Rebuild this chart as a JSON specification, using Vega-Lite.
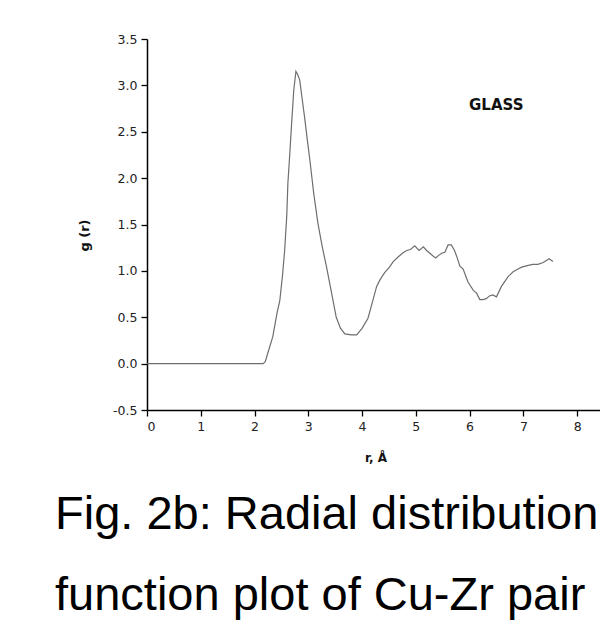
{
  "$schema": "https://vega.github.io/schema/vega-lite/v6.json",
  "width": 457,
  "height": 371,
  "autosize": {"type": "none"},
  "padding": {"left": 147, "top": 39, "right": 0, "bottom": 221},
  "background": "white",
  "config": {
    "view": {"stroke": null},
    "axis": {
      "domainColor": "#000000",
      "domainWidth": 1.5,
      "tickColor": "#000000",
      "tickWidth": 1.3,
      "labelFont": "DejaVu Sans",
      "labelFontSize": 12.5,
      "labelColor": "#222222",
      "labelOverlap": false,
      "grid": false,
      "titleFont": "DejaVu Sans",
      "titleFontWeight": "bold",
      "titleColor": "#111111"
    }
  },
  "title": {
    "text": ["Fig. 2b: Radial distribution", "function plot of Cu-Zr pair"],
    "orient": "bottom",
    "anchor": "start",
    "frame": "group",
    "font": "Liberation Sans",
    "fontSize": 47,
    "fontWeight": "normal",
    "color": "#000000",
    "lineHeight": 81,
    "dx": -92,
    "offset": 29
  },
  "layer": [
    {
      "data": {
        "values": [
          {"r": 0, "g": 0}, {"r": 2.16, "g": 0}, {"r": 2.2, "g": 0.02}, {"r": 2.25, "g": 0.12},
          {"r": 2.34, "g": 0.29}, {"r": 2.42, "g": 0.55}, {"r": 2.47, "g": 0.68}, {"r": 2.52, "g": 0.95},
          {"r": 2.56, "g": 1.22}, {"r": 2.6, "g": 1.6}, {"r": 2.62, "g": 1.94}, {"r": 2.66, "g": 2.3},
          {"r": 2.69, "g": 2.59}, {"r": 2.73, "g": 2.95}, {"r": 2.77, "g": 3.15}, {"r": 2.8, "g": 3.12},
          {"r": 2.84, "g": 3.06}, {"r": 2.88, "g": 2.88}, {"r": 2.93, "g": 2.66}, {"r": 2.98, "g": 2.42},
          {"r": 3.03, "g": 2.19}, {"r": 3.1, "g": 1.84}, {"r": 3.18, "g": 1.51}, {"r": 3.26, "g": 1.26},
          {"r": 3.34, "g": 1.04}, {"r": 3.43, "g": 0.77}, {"r": 3.52, "g": 0.5}, {"r": 3.6, "g": 0.38},
          {"r": 3.68, "g": 0.32}, {"r": 3.8, "g": 0.31}, {"r": 3.9, "g": 0.31}, {"r": 4.0, "g": 0.38},
          {"r": 4.11, "g": 0.49}, {"r": 4.2, "g": 0.68}, {"r": 4.27, "g": 0.83}, {"r": 4.33, "g": 0.9},
          {"r": 4.42, "g": 0.98}, {"r": 4.51, "g": 1.04}, {"r": 4.58, "g": 1.1}, {"r": 4.67, "g": 1.15},
          {"r": 4.75, "g": 1.19}, {"r": 4.83, "g": 1.22}, {"r": 4.9, "g": 1.23}, {"r": 4.98, "g": 1.27},
          {"r": 5.06, "g": 1.22}, {"r": 5.14, "g": 1.26}, {"r": 5.2, "g": 1.22}, {"r": 5.26, "g": 1.19},
          {"r": 5.32, "g": 1.16}, {"r": 5.37, "g": 1.14}, {"r": 5.43, "g": 1.17}, {"r": 5.48, "g": 1.19},
          {"r": 5.54, "g": 1.2}, {"r": 5.6, "g": 1.28}, {"r": 5.66, "g": 1.28}, {"r": 5.72, "g": 1.22},
          {"r": 5.77, "g": 1.14}, {"r": 5.82, "g": 1.05}, {"r": 5.88, "g": 1.02}, {"r": 5.97, "g": 0.88},
          {"r": 6.07, "g": 0.79}, {"r": 6.13, "g": 0.76}, {"r": 6.19, "g": 0.69}, {"r": 6.25, "g": 0.69},
          {"r": 6.31, "g": 0.7}, {"r": 6.37, "g": 0.73}, {"r": 6.43, "g": 0.74}, {"r": 6.5, "g": 0.72},
          {"r": 6.59, "g": 0.83}, {"r": 6.72, "g": 0.94}, {"r": 6.81, "g": 0.99}, {"r": 6.9, "g": 1.02},
          {"r": 6.97, "g": 1.04}, {"r": 7.09, "g": 1.06}, {"r": 7.18, "g": 1.07}, {"r": 7.27, "g": 1.07},
          {"r": 7.37, "g": 1.09}, {"r": 7.48, "g": 1.13}, {"r": 7.55, "g": 1.1}
        ]
      },
      "mark": {"type": "line", "color": "#6e6e6e", "strokeWidth": 1.2},
      "encoding": {
        "x": {
          "field": "r",
          "type": "quantitative",
          "scale": {"domain": [0, 8.5], "nice": false, "zero": false},
          "axis": {
            "title": "r, Å",
            "titleFontSize": 12,
            "titleY": 47,
            "titleBaseline": "middle",
            "values": [0, 0.5, 1, 1.5, 2, 2.5, 3, 3.5, 4, 4.5, 5, 5.5, 6, 6.5, 7, 7.5, 8, 8.5],
            "tickSize": {"condition": {"test": "datum.value % 1 !== 0", "value": 4}, "value": 6},
            "labelExpr": "datum.value % 1 === 0 ? format(datum.value, 'd') : ''",
            "labelPadding": 4
          }
        },
        "y": {
          "field": "g",
          "type": "quantitative",
          "scale": {"domain": [-0.5, 3.5], "nice": false, "zero": false},
          "axis": {
            "title": "g (r)",
            "titleFontSize": 13,
            "titleAngle": -90,
            "titleX": -63,
            "titleY": 196,
            "titleAlign": "center",
            "titleBaseline": "middle",
            "values": [-0.5, -0.25, 0, 0.25, 0.5, 0.75, 1, 1.25, 1.5, 1.75, 2, 2.25, 2.5, 2.75, 3, 3.25, 3.5],
            "tickSize": {"condition": {"test": "datum.value % 0.5 !== 0", "value": 4}, "value": 6},
            "labelExpr": "datum.value % 0.5 === 0 ? replace(format(datum.value, '.1f'), '\u2212', '-') : ''",
            "labelPadding": 4
          }
        }
      }
    },
    {
      "data": {"values": [{"label": "GLASS", "r": 5.99, "g": 2.79}]},
      "mark": {"type": "text", "align": "left", "baseline": "middle", "font": "DejaVu Sans", "fontWeight": "bold", "fontSize": 15, "color": "#111111"},
      "encoding": {
        "x": {"field": "r", "type": "quantitative"},
        "y": {"field": "g", "type": "quantitative"},
        "text": {"field": "label"}
      }
    }
  ]
}
